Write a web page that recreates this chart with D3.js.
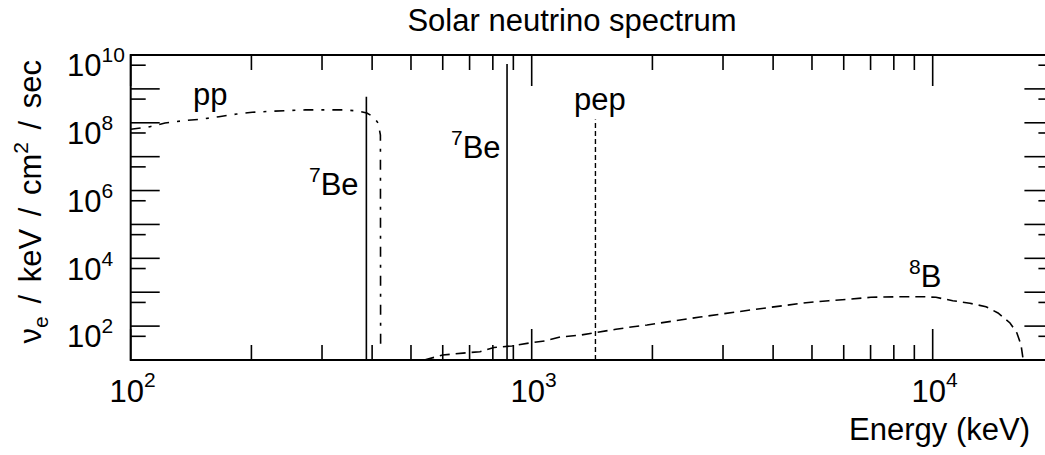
<!DOCTYPE html>
<html><head><meta charset="utf-8">
<script src="https://cdn.jsdelivr.net/npm/d3@7"></script>
<style>
html,body{margin:0;padding:0;background:#fff;}
svg text{font-family:"Liberation Sans",Arial,Helvetica,sans-serif;fill:#000;}
</style></head>
<body>
<svg id="c" width="1045" height="455"></svg>
<script>
// ---- data ----
const ppEnergy = [100,111.7,121.8,135,150.6,166,184,201,225,245,273,305,339,369,388,404,414,419.5,420];
const ppFlux   = [1.29e8,1.53e8,1.97e8,2.30e8,2.57e8,3.02e8,3.63e8,4.07e8,4.37e8,4.57e8,4.79e8,4.79e8,4.79e8,4.47e8,3.89e8,2.95e8,1.95e8,8.7e7,45];
const b8Energy = [540,600,674,743,805,893,1000,1080,1177,1327,1438,1622,1790,1940,2630,3506,4830,5510,6180,7010,8280,9460,10190,11220,12380,13580,14550,15590,16220,16610,16790,16850];
const b8Flux   = [20,28,32,35,47,52,65,73,95,109,128,161,192,216,371,597,982,1125,1237,1416,1475,1475,1416,1125,942,748,488,247,125,55,23,18];
const be7Energy = [387,868];
const be7Flux   = [1.18e9,1.08e10];
const pepEnergy = [1442];
const pepFlux   = [2.5e8];
const xTickExps = [2,3,4];
const yTickExps = [2,4,6,8,10];

const svg = d3.select("#c");
const L=130.7, T=55, B=360, R=1053.4;
const x = d3.scaleLog().domain([100,20000]).range([L,R]);
const y = d3.scaleLog().domain([20,2e10]).range([B,T]);

// clip
svg.append("clipPath").attr("id","clip").append("rect")
  .attr("x",L).attr("y",T).attr("width",R-L).attr("height",B-T);

// ---- ticks ----
const g = svg.append("g").attr("stroke","#000").attr("stroke-width",1.6);
const xMajor=[], xMinor=[];
for(let e=2;e<=4;e++){ xMajor.push(Math.pow(10,e)); for(let m=2;m<=9;m++){const v=m*Math.pow(10,e); if(v<20000) xMinor.push(v);} }
xMajor.forEach(v=>{ const px=x(v);
  g.append("line").attr("x1",px).attr("x2",px).attr("y1",B).attr("y2",B-31);
  g.append("line").attr("x1",px).attr("x2",px).attr("y1",T).attr("y2",T+31);});
xMinor.forEach(v=>{ const px=x(v);
  g.append("line").attr("x1",px).attr("x2",px).attr("y1",B).attr("y2",B-15);
  g.append("line").attr("x1",px).attr("x2",px).attr("y1",T).attr("y2",T+15);});
for(let e=1;e<=10;e++){
  const d=Math.pow(10,e), t=2*Math.pow(10,e);
  if(d>=20){ const py=y(d);
    g.append("line").attr("x1",L).attr("x2",L+15).attr("y1",py).attr("y2",py);
    g.append("line").attr("x1",R).attr("x2",R-15).attr("y1",py).attr("y2",py);}
  if(t>20 && t<2e10){ const py=y(t);
    g.append("line").attr("x1",L).attr("x2",L+29).attr("y1",py).attr("y2",py);
    g.append("line").attr("x1",R).attr("x2",R-29).attr("y1",py).attr("y2",py);}
}

// ---- data lines ----
const plot = svg.append("g").attr("clip-path","url(#clip)").attr("fill","none").attr("stroke","#000");
const line = d3.line().x(d=>x(d[0])).y(d=>y(d[1]));
plot.append("path").datum(ppEnergy.map((e,i)=>[e,ppFlux[i]]))
  .attr("d",line).attr("stroke-width",1.6).attr("stroke-dasharray","10,8,3,8");
plot.append("path").datum(b8Energy.map((e,i)=>[e,b8Flux[i]]))
  .attr("d",line).attr("stroke-width",1.6).attr("stroke-dasharray","10,6");
be7Energy.forEach((e,i)=>{
  plot.append("line").attr("x1",x(e)).attr("x2",x(e)).attr("y1",B).attr("y2",y(be7Flux[i])).attr("stroke-width",1.6);
});
pepEnergy.forEach((e,i)=>{
  plot.append("line").attr("x1",x(e)).attr("x2",x(e)).attr("y1",B).attr("y2",y(pepFlux[i])).attr("stroke-width",1.4).attr("stroke-dasharray","5,3");
});

// frame
svg.append("rect").attr("x",L).attr("y",T).attr("width",R-L).attr("height",B-T)
  .attr("fill","none").attr("stroke","#000").attr("stroke-width",2);

// ---- labels ----
const FS=31, SS=21;
xTickExps.forEach(e=>{
  const t=svg.append("text").attr("x",x(Math.pow(10,e))+2).attr("y",402).attr("text-anchor","middle").attr("font-size",FS);
  t.append("tspan").text("10");
  t.append("tspan").attr("font-size",SS).attr("dy",-15).text(e);
});
yTickExps.forEach(e=>{
  const t=svg.append("text").attr("x",67).attr("y",y(Math.pow(10,e))+11).attr("font-size",FS);
  t.append("tspan").text("10");
  t.append("tspan").attr("font-size",SS).attr("dy",-14).text(e);
});

svg.append("text").attr("x",572).attr("y",31).attr("text-anchor","middle").attr("font-size",FS).text("Solar neutrino spectrum");
svg.append("text").attr("x",1030).attr("y",440).attr("text-anchor","end").attr("font-size",FS).text("Energy (keV)");
const yt=svg.append("text").attr("transform","translate(41,60) rotate(-90)").attr("text-anchor","end")
  .attr("font-size",FS).style("word-spacing","4px");
yt.append("tspan").text("\u03bd");
yt.append("tspan").attr("font-size",SS).attr("dy",7).text("e");
yt.append("tspan").attr("dy",-7).text(" / keV / cm");
yt.append("tspan").attr("font-size",SS).attr("dy",-13).text("2");
yt.append("tspan").attr("dy",13).text(" / sec");

function sup(xp,yp,s,main){
  const t=svg.append("text").attr("x",xp).attr("y",yp).attr("font-size",FS);
  if(s){ t.append("tspan").attr("font-size",SS).attr("dy",-13).text(s);
         t.append("tspan").attr("dy",13).text(main);}
  else t.text(main);
}
sup(193,105,null,"pp");
sup(309,195,"7","Be");
sup(451,158,"7","Be");
sup(574,110,null,"pep");
sup(909,287,"8","B");
</script>
</body></html>
